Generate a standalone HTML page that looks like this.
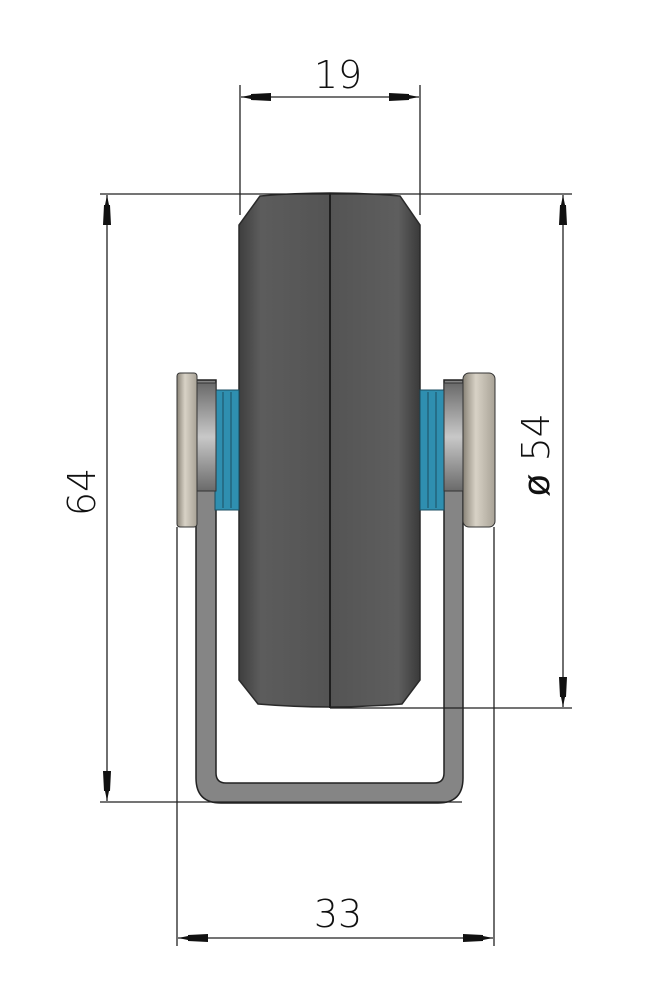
<!DOCTYPE html>
<html><head><meta charset="utf-8"><style>html,body{margin:0;padding:0;background:#fff}svg{display:block}</style></head>
<body>
<svg width="649" height="1000" viewBox="0 0 649 1000" xmlns="http://www.w3.org/2000/svg">
<defs>
<linearGradient id="w" x1="0" y1="0" x2="1" y2="0">
<stop offset="0" stop-color="#3e3e3e"/><stop offset="0.12" stop-color="#5c5c5c"/><stop offset="0.5" stop-color="#545454"/><stop offset="0.88" stop-color="#5e5e5e"/><stop offset="1" stop-color="#3a3a3a"/>
</linearGradient>
<linearGradient id="cap" x1="0" y1="0" x2="1" y2="0">
<stop offset="0" stop-color="#8a8478"/><stop offset="0.4" stop-color="#d8d2c6"/><stop offset="1" stop-color="#a8a296"/>
</linearGradient>
<linearGradient id="nut" x1="0" y1="0" x2="0" y2="1">
<stop offset="0" stop-color="#6a6a6a"/><stop offset="0.5" stop-color="#c8c8c8"/><stop offset="1" stop-color="#6a6a6a"/>
</linearGradient>
<marker id="a" viewBox="0 0 30 10" refX="30" refY="5" markerWidth="30" markerHeight="10" markerUnits="userSpaceOnUse" orient="auto-start-reverse">
<path d="M30,5 L20,3 L20,2 L0,1 L0,9 L20,8 L20,7 Z" fill="#111"/>
</marker>
</defs>
<path d="M196,380 V778 Q196,803 221,803 H438 Q463,803 463,778 V380 H444 V773 Q444,783 434,783 H226 Q216,783 216,773 V380 Z" fill="#858585" stroke="#222" stroke-width="1.5"/>
<path d="M260,196 Q330,190 400,196 L420,225 V680 L402,704 Q330,710 258,704 L239,680 V225 Z" fill="url(#w)" stroke="#2a2a2a" stroke-width="1.5"/>
<line x1="330" y1="193" x2="330" y2="708" stroke="#1e1e1e" stroke-width="2"/>
<rect x="215" y="390" width="24" height="120" fill="#2f8fb0" stroke="#1b4d60"/>
<line x1="223" y1="392" x2="223" y2="508" stroke="#1b4d60"/><line x1="231" y1="392" x2="231" y2="508" stroke="#1b4d60"/>
<rect x="420" y="390" width="24" height="120" fill="#2f8fb0" stroke="#1b4d60"/>
<line x1="428" y1="392" x2="428" y2="508" stroke="#1b4d60"/><line x1="436" y1="392" x2="436" y2="508" stroke="#1b4d60"/>
<rect x="196" y="383" width="20" height="108" fill="url(#nut)" stroke="#333"/>
<rect x="444" y="383" width="20" height="108" fill="url(#nut)" stroke="#333"/>
<rect x="177" y="373" width="20" height="154" rx="3" fill="url(#cap)" stroke="#333"/>
<rect x="463" y="373" width="32" height="154" rx="6" fill="url(#cap)" stroke="#333"/>
<g stroke="#222" stroke-width="1.3" fill="none">
<line x1="240" y1="85" x2="240" y2="215"/><line x1="420" y1="85" x2="420" y2="215"/>
<line x1="241" y1="97" x2="419" y2="97" marker-start="url(#a)" marker-end="url(#a)"/>
<line x1="100" y1="194" x2="572" y2="194"/>
<line x1="100" y1="802" x2="462" y2="802"/>
<line x1="107" y1="195" x2="107" y2="801" marker-start="url(#a)" marker-end="url(#a)"/>
<line x1="330" y1="708" x2="572" y2="708"/>
<line x1="563" y1="195" x2="563" y2="707" marker-start="url(#a)" marker-end="url(#a)"/>
<line x1="177" y1="527" x2="177" y2="946"/><line x1="494" y1="527" x2="494" y2="946"/>
<line x1="178" y1="938" x2="493" y2="938" marker-start="url(#a)" marker-end="url(#a)"/>
</g>
<g font-family="'DejaVu Sans','Liberation Sans',sans-serif" font-size="38" fill="#111" font-weight="300">
<text x="338" y="88" text-anchor="middle">19</text>
<text x="338" y="927" text-anchor="middle">33</text>
<text transform="translate(95,492) rotate(-90)" text-anchor="middle">64</text>
<text transform="translate(549,455) rotate(-90)" text-anchor="middle"><tspan font-family="'Liberation Sans',sans-serif" font-weight="normal">ø</tspan> 54</text>
</g>
</svg>
</body></html>
